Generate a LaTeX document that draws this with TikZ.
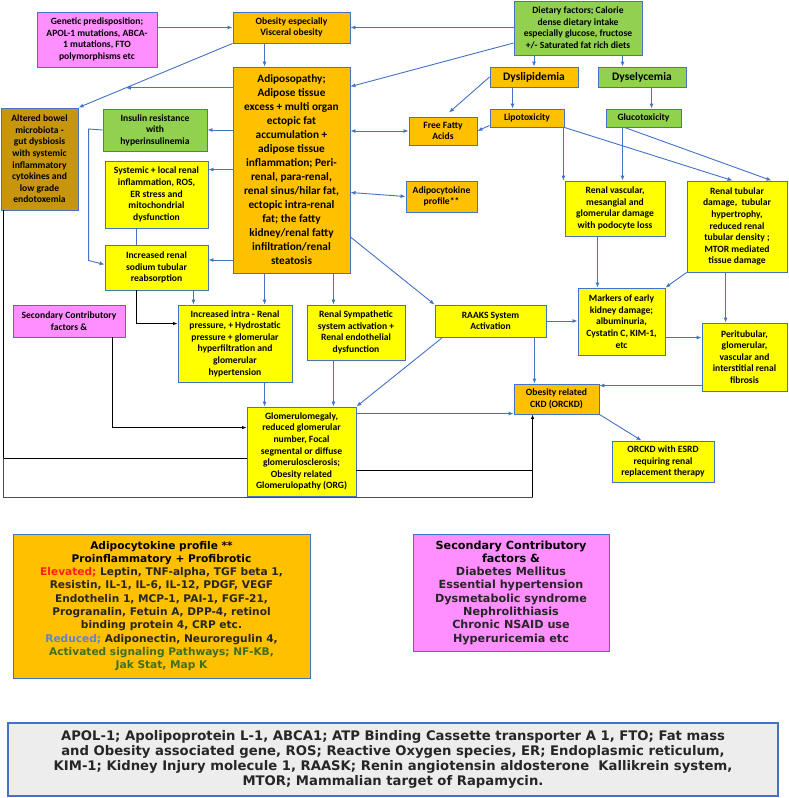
\documentclass[tikz,border=0pt]{standalone}
\usepackage{fontspec}
\setmainfont{Carlito}
\newfontfamily\djvfont{DejaVu Sans}
\usetikzlibrary{arrows.meta,calc}
\definecolor{bblue}{HTML}{4472C4}
\definecolor{orng}{HTML}{FFC000}
\definecolor{ylw}{HTML}{FFFF00}
\definecolor{grn}{HTML}{92D050}
\definecolor{pnk}{HTML}{FF8FFF}
\definecolor{brn}{HTML}{C8960C}
\definecolor{footgrey}{HTML}{EDEDED}
\definecolor{redtxt}{HTML}{FF2020}
\definecolor{bluetxt}{HTML}{5B86C8}
\definecolor{grntxt}{HTML}{3F6F1F}
\definecolor{bodytxt}{HTML}{262626}
\tikzset{
  bx/.style={draw=bblue, line width=0.9pt, inner sep=0pt, align=center, text=black,
    font=\bfseries\fontsize{9.6}{11.6}\selectfont},
  fillor/.style={fill=orng}, fillye/.style={fill=ylw}, fillgr/.style={fill=grn},
  fillpk/.style={fill=pnk}, fillbr/.style={fill=brn},
  ar/.style={draw=bblue, line width=0.9pt, -{Latex[length=5pt,width=4pt]}},
  artwo/.style={draw=bblue, line width=0.9pt, {Latex[length=5pt,width=4pt]}-{Latex[length=5pt,width=4pt]}},
  ln/.style={draw=bblue, line width=0.9pt},
  kar/.style={draw=black, line width=0.8pt, -{Latex[length=4.5pt,width=3.5pt]}},
  kln/.style={draw=black, line width=0.8pt},
  gln/.style={draw=black!70, line width=1.6pt},
}
\newcommand\bxnode[7]{\node[bx,#6,minimum width={#4-#2},minimum height={#5-#3}] (#1) at ({(#2+#4)/2},{(#3+#5)/2}) {#7};}
\begin{document}
\begin{tikzpicture}[x=1pt,y=-1pt]
\fill[white] (0,0) rectangle (788,798);
\useasboundingbox (0,0) rectangle (788,798);

% boxes
\bxnode{gen}{37}{12}{157}{67}{fillpk}{Genetic predisposition;\\APOL-1 mutations, ABCA-\\1 mutations, FTO\\polymorphisms etc}
\bxnode{obe}{233}{12}{350}{43}{fillor}{Obesity especially\\Visceral obesity}
\bxnode{diet}{514}{1}{642}{55}{fillgr}{Dietary factors; Calorie\\dense dietary intake\\especially glucose, fructose\\+/- Saturated fat rich diets}
\bxnode{dysl}{490}{67}{578}{87}{fillor,font=\bfseries\fontsize{11.5}{13}\selectfont}{Dyslipidemia}
\bxnode{dysg}{598}{67}{686}{87}{fillgr,font=\bfseries\fontsize{11.5}{13}\selectfont}{Dyselycemia}
\bxnode{lipo}{490}{109}{564}{127}{fillor}{Lipotoxicity}
\bxnode{gluc}{606}{109}{681}{127}{fillgr}{Glucotoxicity}
\bxnode{adip}{233}{67}{350}{273}{fillor,font=\bfseries\fontsize{11.3}{14}\selectfont}{Adiposopathy;\\Adipose tissue\\excess + multi organ\\ectopic fat\\accumulation +\\adipose tissue\\inflammation; Peri-\\renal, para-renal,\\renal sinus/hilar fat,\\ectopic intra-renal\\fat; the fatty\\kidney/renal fatty\\infiltration/renal\\steatosis}
\bxnode{ffa}{409}{117}{477}{145}{fillor}{Free Fatty\\Acids}
\bxnode{acp}{406}{181}{477}{212}{fillor}{Adipocytokine\\profile**}
\bxnode{bowel}{1}{108}{78}{210}{fillbr}{Altered bowel\\microbiota -\\gut dysbiosis\\with systemic\\inflammatory\\cytokines and\\low grade\\endotoxemia}
\bxnode{ins}{103}{109}{207}{151}{fillgr}{Insulin resistance\\with\\hyperinsulinemia}
\bxnode{sys}{105}{161}{208}{228}{fillye}{Systemic + local renal\\inflammation, ROS,\\ER stress and\\mitochondrial\\dysfunction}
\bxnode{sod}{105}{245}{208}{290}{fillye}{Increased renal\\sodium tubular\\reabsorption}
\bxnode{sec}{13}{305}{125}{337}{fillpk}{Secondary Contributory\\factors \&}
\bxnode{irp}{178}{305}{292}{382}{fillye}{Increased intra - Renal\\pressure, + Hydrostatic\\pressure + glomerular\\hyperfiltration and\\glomerular\\hypertension}
\bxnode{rsa}{307}{305}{405}{360}{fillye}{Renal Sympathetic\\system activation +\\Renal endothelial\\dysfunction}
\bxnode{raaks}{435}{305}{546}{337}{fillye}{RAAKS System\\Activation}
\bxnode{mark}{578}{288}{665}{355}{fillye}{Markers of early\\kidney damage;\\albuminuria,\\Cystatin C, KIM-1,\\etc}
\bxnode{peri}{702}{323}{787}{391}{fillye}{Peritubular,\\glomerular,\\vascular and\\interstitial renal\\fibrosis}
\bxnode{rvas}{565}{181}{665}{236}{fillye}{Renal vascular,\\mesangial and\\glomerular damage\\with podocyte loss}
\bxnode{rtub}{687}{181}{787}{272}{fillye}{Renal tubular\\damage,\ \ tubular\\hypertrophy,\\reduced renal\\tubular density ;\\MTOR mediated\\tissue damage}
\bxnode{ckd}{514}{384}{599}{414}{fillor}{Obesity related\\CKD (ORCKD)}
\bxnode{esrd}{612}{441}{714}{482}{fillye}{ORCKD with ESRD\\requiring renal\\replacement therapy}
\bxnode{glom}{247}{407}{356}{496}{fillye}{Glomerulomegaly,\\reduced glomerular\\number, Focal\\segmental or diffuse\\glomerulosclerosis;\\Obesity related\\Glomerulopathy (ORG)}

% legends
\bxnode{legA}{13}{534}{310}{678}{fillor,text=bodytxt,font=\djvfont\bfseries\fontsize{10.6}{13.3}\selectfont}{\textcolor{black}{Adipocytokine profile **}\\\textcolor{black}{Proinflammatory + Profibrotic}\\\textcolor{redtxt}{Elevated;} Leptin, TNF-alpha, TGF beta 1,\\Resistin, IL-1, IL-6, IL-12, PDGF, VEGF\\Endothelin 1, MCP-1, PAI-1, FGF-21,\\Progranalin, Fetuin A, DPP-4, retinol\\binding protein 4, CRP etc.\\\textcolor{bluetxt}{Reduced;} Adiponectin, Neuroregulin 4,\\\textcolor{grntxt}{Activated signaling Pathways; NF-KB,}\\\textcolor{grntxt}{Jak Stat, Map K}}
\bxnode{legB}{413}{534}{609}{651}{fillpk,text=bodytxt,font=\djvfont\bfseries\fontsize{11.2}{13.3}\selectfont}{\textcolor{black}{Secondary Contributory}\\\textcolor{black}{factors \&}\\Diabetes Mellitus\\Essential hypertension\\Dysmetabolic syndrome\\Nephrolithiasis\\Chronic NSAID use\\Hyperuricemia etc}
\bxnode{foot}{8}{723}{778}{796}{fill=footgrey,line width=1.3pt,text=bodytxt,font=\djvfont\bfseries\fontsize{13.2}{14.8}\selectfont}{APOL-1; Apolipoprotein L-1, ABCA1; ATP Binding Cassette transporter A 1, FTO; Fat mass\\and Obesity associated gene, ROS; Reactive Oxygen species, ER; Endoplasmic reticulum,\\KIM-1; Kidney Injury molecule 1, RAASK; Renin angiotensin aldosterone\ \ Kallikrein system,\\MTOR; Mammalian target of Rapamycin.}

% connectors
\draw[ar] (gen.east |- obe.west) -- (obe.west);
\draw[ar] (diet.west |- obe.east) -- (obe.east);
\coordinate (c1) at ($(obe.south west)+(32,0)$);
\draw[ar] (c1) -- (c1 |- adip.north);
\coordinate (j1) at ($(obe.south west)!0.6923!(bowel.north east)$);
\draw[ar] (obe.south west) -- (bowel.north east);
\draw[ar] (adip.west |- j1) -- (j1);
\coordinate (c2) at ($(diet.west)+(0,15)$);
\coordinate (c3) at ($(adip.north east)+(0,20)$);
\draw[ar] (c2) -- (c3);
\draw[ar] (dysl.north |- diet.south) -- (dysl.north);
\coordinate (c4) at ($(dysg.north west)+(25,0)$);
\draw[ar] (c4 |- diet.south) -- (c4);
\coordinate (c5) at ($(dysl.south west)+(23,0)$);
\draw[ar] (c5) -- (c5 |- lipo.north);
\coordinate (c6) at ($(dysg.south west)+(54,0)$);
\draw[ar] (c6) -- (c6 |- gluc.north);
\coordinate (c6b) at ($(ffa.north)+(6,-4)$);
\draw[ar] (dysl.west) -- (c6b);
\coordinate (c6c) at ($(lipo.south west)+(0,-2)$);
\draw[ar] (c6c) -- (ffa.east);
\draw[artwo] (ffa.west -| adip.east) -- (ffa.west);
\coordinate (c7) at ($(acp.west)+(0,-4)$);
\draw[artwo] (c7 -| adip.east) -- (acp.west);
\draw[ar] (ins.east -| adip.west) -- (ins.east);
\coordinate (c8) at ($(sys.north east)+(0,9)$);
\draw[ar] (c8 -| adip.west) -- (c8);
\coordinate (c9) at ($(sod.east)+(0,-7.5)$);
\draw[ar] (c9 -| adip.west) -- (c9);
\coordinate (i1) at ($(ins.west)+(-14,-1)$);
\coordinate (i2) at ($(sod.west)+(-16,-7)$);
\coordinate (i3) at ($(sod.west)+(0,-3)$);
\draw[ar] (ins.west) -- (i1) -- (i2) -- (i3);
\coordinate (c10) at ($(sys.south west)+(32,0)$);
\draw[ln] (c10) -- (c10 |- sod.north);
\coordinate (c11) at ($(sod.south west)+(32,0)$);
\coordinate (c12) at ($(irp.north west)+(0,19)$);
\draw[kar] (c11) |- (c12);
\coordinate (c13) at ($(sod.south east)+(-15,0)$);
\draw[ar] (c13) -- (c13 |- irp.north);
\coordinate (c14) at ($(adip.south west)+(32,0)$);
\draw[ar] (c14) -- (c14 |- irp.north);
\coordinate (c15) at ($(adip.south east)+(-17,0)$);
\draw[ar] (c15) -- (c15 |- rsa.north);
\coordinate (c15b) at ($(adip.east)+(0,67)$);
\draw[ar] (c15b) -- (raaks.north west);
\coordinate (c15c) at ($(raaks.south west)+(8,0)$);
\draw[ar] (c15c) -- (glom.north east);
\draw[ar] (c14 |- irp.south) -- (c14 |- glom.north);
\draw[ar] (c15 |- rsa.south) -- (c15 |- glom.north);
\coordinate (c16) at ($(glom.north east)+(0,7)$);
\draw[ar] (c16) -- (c16 -| ckd.west);
\coordinate (c17) at ($(raaks.south east)+(-12,0)$);
\draw[ar] (c17) -- (c17 |- ckd.north);
\draw[ar] (raaks.east) -- (raaks.east -| mark.west);
\coordinate (c18) at ($(peri.north west)+(0,15)$);
\draw[ar] (c18 -| mark.east) -- (c18);
\coordinate (c19) at ($(peri.north west)+(0,63)$);
\draw[ar] (c19) -- (c19 -| ckd.east);
\coordinate (c20) at ($(rtub.south west)+(39,0)$);
\draw[ar] (c20) -- (c20 |- peri.north);
\draw[ar] (rtub.south west) -- (mark.north east);
\coordinate (c21) at ($(rvas.south west)+(33,0)$);
\draw[ar] (c21) -- (c21 |- mark.north);
\coordinate (c22) at ($(lipo.south east)+(-1,0)$);
\draw[ar] (c22) -- (c22 |- rvas.north);
\coordinate (c22b) at ($(rtub.north west)+(46,0)$);
\draw[ar] (lipo.south east) -- (c22b);
\coordinate (c23) at ($(gluc.south west)+(17,0)$);
\draw[ar] (c23) -- (c23 |- rvas.north);
\coordinate (c23a) at ($(gluc.south west)+(19,0)$);
\coordinate (c23b) at ($(rtub.north west)+(85,0)$);
\draw[ar] (c23a) -- (c23b);
\coordinate (c23c) at ($(esrd.north west)+(30,0)$);
\draw[ar] (ckd.south east) -- (c23c);
\coordinate (c24) at ($(sec.south west)+(100,0)$);
\coordinate (c25) at ($(glom.north west)+(0,21)$);
\draw[kar] (c24) |- (c25);
\coordinate (b0) at ($(bowel.south west)+(3,0)$);
\coordinate (b1) at ($(bowel.south west)+(3,248)$);
\coordinate (b2) at ($(bowel.south west)+(3,287)$);
\coordinate (ck) at ($(ckd.south west)+(19,0)$);
\draw[kln] (b0) -- (b1) -- (b1 -| glom.west);
\draw[gln] (b1) -- (b2) -- (b2 -| ck);
\draw[kar] (b2 -| ck) -- (ck);
\coordinate (c26) at ($(glom.north east)+(0,64)$);
\draw[kln] (c26) -- (c26 -| ck);
\end{tikzpicture}
\end{document}
